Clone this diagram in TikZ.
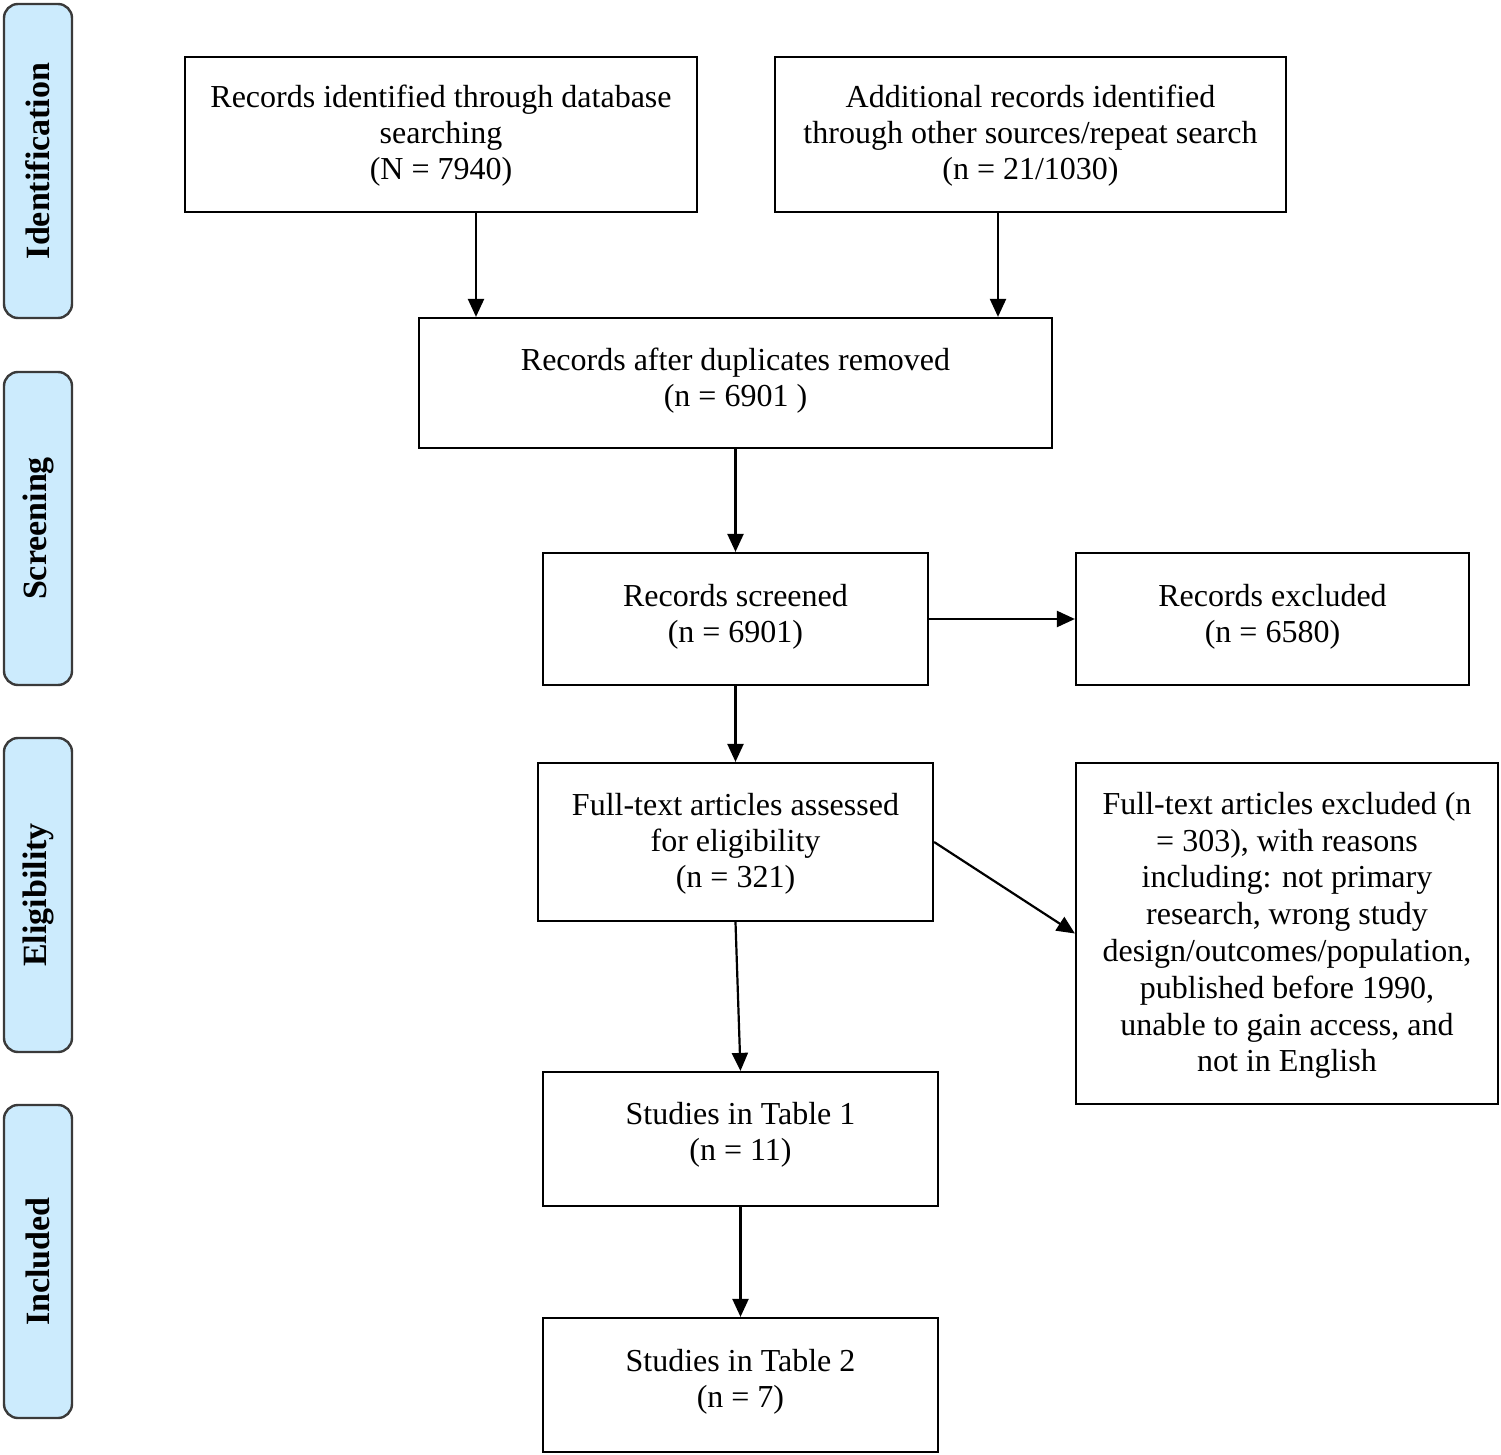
\documentclass[tikz,border=0pt]{standalone}
\usepackage{fontspec}
\setmainfont{Liberation Serif}
\usetikzlibrary{arrows.meta}
\definecolor{sidefill}{HTML}{CCEBFD}
\definecolor{sideline}{HTML}{3A3A3A}
\tikzset{
  box/.style={draw=black, line width=1.1pt, fill=white, align=center, inner sep=0pt,
    font=\fontsize{16}{18}\selectfont},
  lbl/.style={draw=none, fill=none, align=center, inner sep=0pt,
    font=\fontsize{16}{18}\selectfont},
  side/.style={draw=sideline, line width=1.2pt, fill=sidefill, rounded corners=7pt,
    minimum width=34pt, inner sep=0pt},
  sidetext/.style={rotate=90, font=\fontsize{17}{20}\selectfont\bfseries},
  arr/.style={line width=1.1pt, -{Triangle[length=9pt,width=8pt]}},
}
\begin{document}
\begin{tikzpicture}[x=0.5pt,y=-0.5pt]
\useasboundingbox (0,0) rectangle (1501,1455);
% side bars
\node[side, minimum height=157pt] (s1) at (38,161) {};
\node[sidetext] (t1) at (s1.center) {Identification};
\node[side, minimum height=156.5pt] (s2) at (38,528.5) {};
\node[sidetext] (t2) at (s2.center) {Screening};
\node[side, minimum height=157pt] (s3) at (38,895) {};
\node[sidetext] (t3) at (s3.center) {Eligibility};
\node[side, minimum height=156.5pt] (s4) at (38,1261.5) {};
\node[sidetext] (t4) at (s4.center) {Included};
% boxes
\node[box, minimum width=256pt, minimum height=77.5pt] (b1) at (441,134.5) {};
\node[lbl] (t1b) at (441,135.5)
  {Records identified through database\\searching\\(N = 7940)};
\node[box, minimum width=255.5pt, minimum height=77.5pt] (b2) at (1030.5,134.5) {};
\node[lbl] (t2b) at (1030.5,135.5)
  {Additional records identified\\through other sources/repeat search\\(n = 21/1030)};
\node[box, minimum width=316.5pt, minimum height=65pt] (b3) at (735.5,383) {};
\node[lbl] (t3b) at (735.5,381) {Records after duplicates removed\\(n = 6901 )};
\node[box, minimum width=192.5pt, minimum height=66pt] (b4) at (735.5,619) {};
\node[lbl] (t4b) at (735.5,617) {Records screened\\(n = 6901)};
\node[box, minimum width=196.5pt, minimum height=66pt] (b5) at (1272.5,619) {};
\node[lbl] (t5b) at (1272.5,617) {Records excluded\\(n = 6580)};
\node[box, minimum width=197.5pt, minimum height=79pt] (b6) at (735.5,842) {};
\node[lbl] (t6b) at (735.5,844) {Full-text articles assessed\\for eligibility\\(n = 321)};
\node[box, minimum width=211pt, minimum height=170.5pt] (b7) at (1287,933.5) {};
\node[lbl, font=\fontsize{16}{18.4}\selectfont] (t7b) at (1287,935.5)
  {Full-text articles excluded (n\\= 303), with reasons\\including: not primary\\research, wrong study\\design/outcomes/population,\\published before 1990,\\unable to gain access, and\\not in English};
\node[box, minimum width=197.5pt, minimum height=67pt] (b8) at (740.5,1139) {};
\node[lbl] (t8b) at (740.5,1135) {Studies in Table 1\\(n = 11)};
\node[box, minimum width=197.5pt, minimum height=67pt] (b9) at (740.5,1385) {};
\node[lbl] (t9b) at (740.5,1382) {Studies in Table 2\\(n = 7)};
% arrows
\draw[arr] (b1.south -| 476,0) -- (b3.north -| 476,0);
\draw[arr] (b2.south -| 998,0) -- (b3.north -| 998,0);
\draw[arr] (b3.south) -- (b4.north);
\draw[arr] (b4.east) -- (b5.west);
\draw[arr] (b4.south) -- (b6.north);
\draw[arr] (b6.east) -- (b7.west);
\draw[arr] (b6.south) -- (b8.north);
\draw[arr] (b8.south) -- (b9.north);
\end{tikzpicture}
\end{document}
